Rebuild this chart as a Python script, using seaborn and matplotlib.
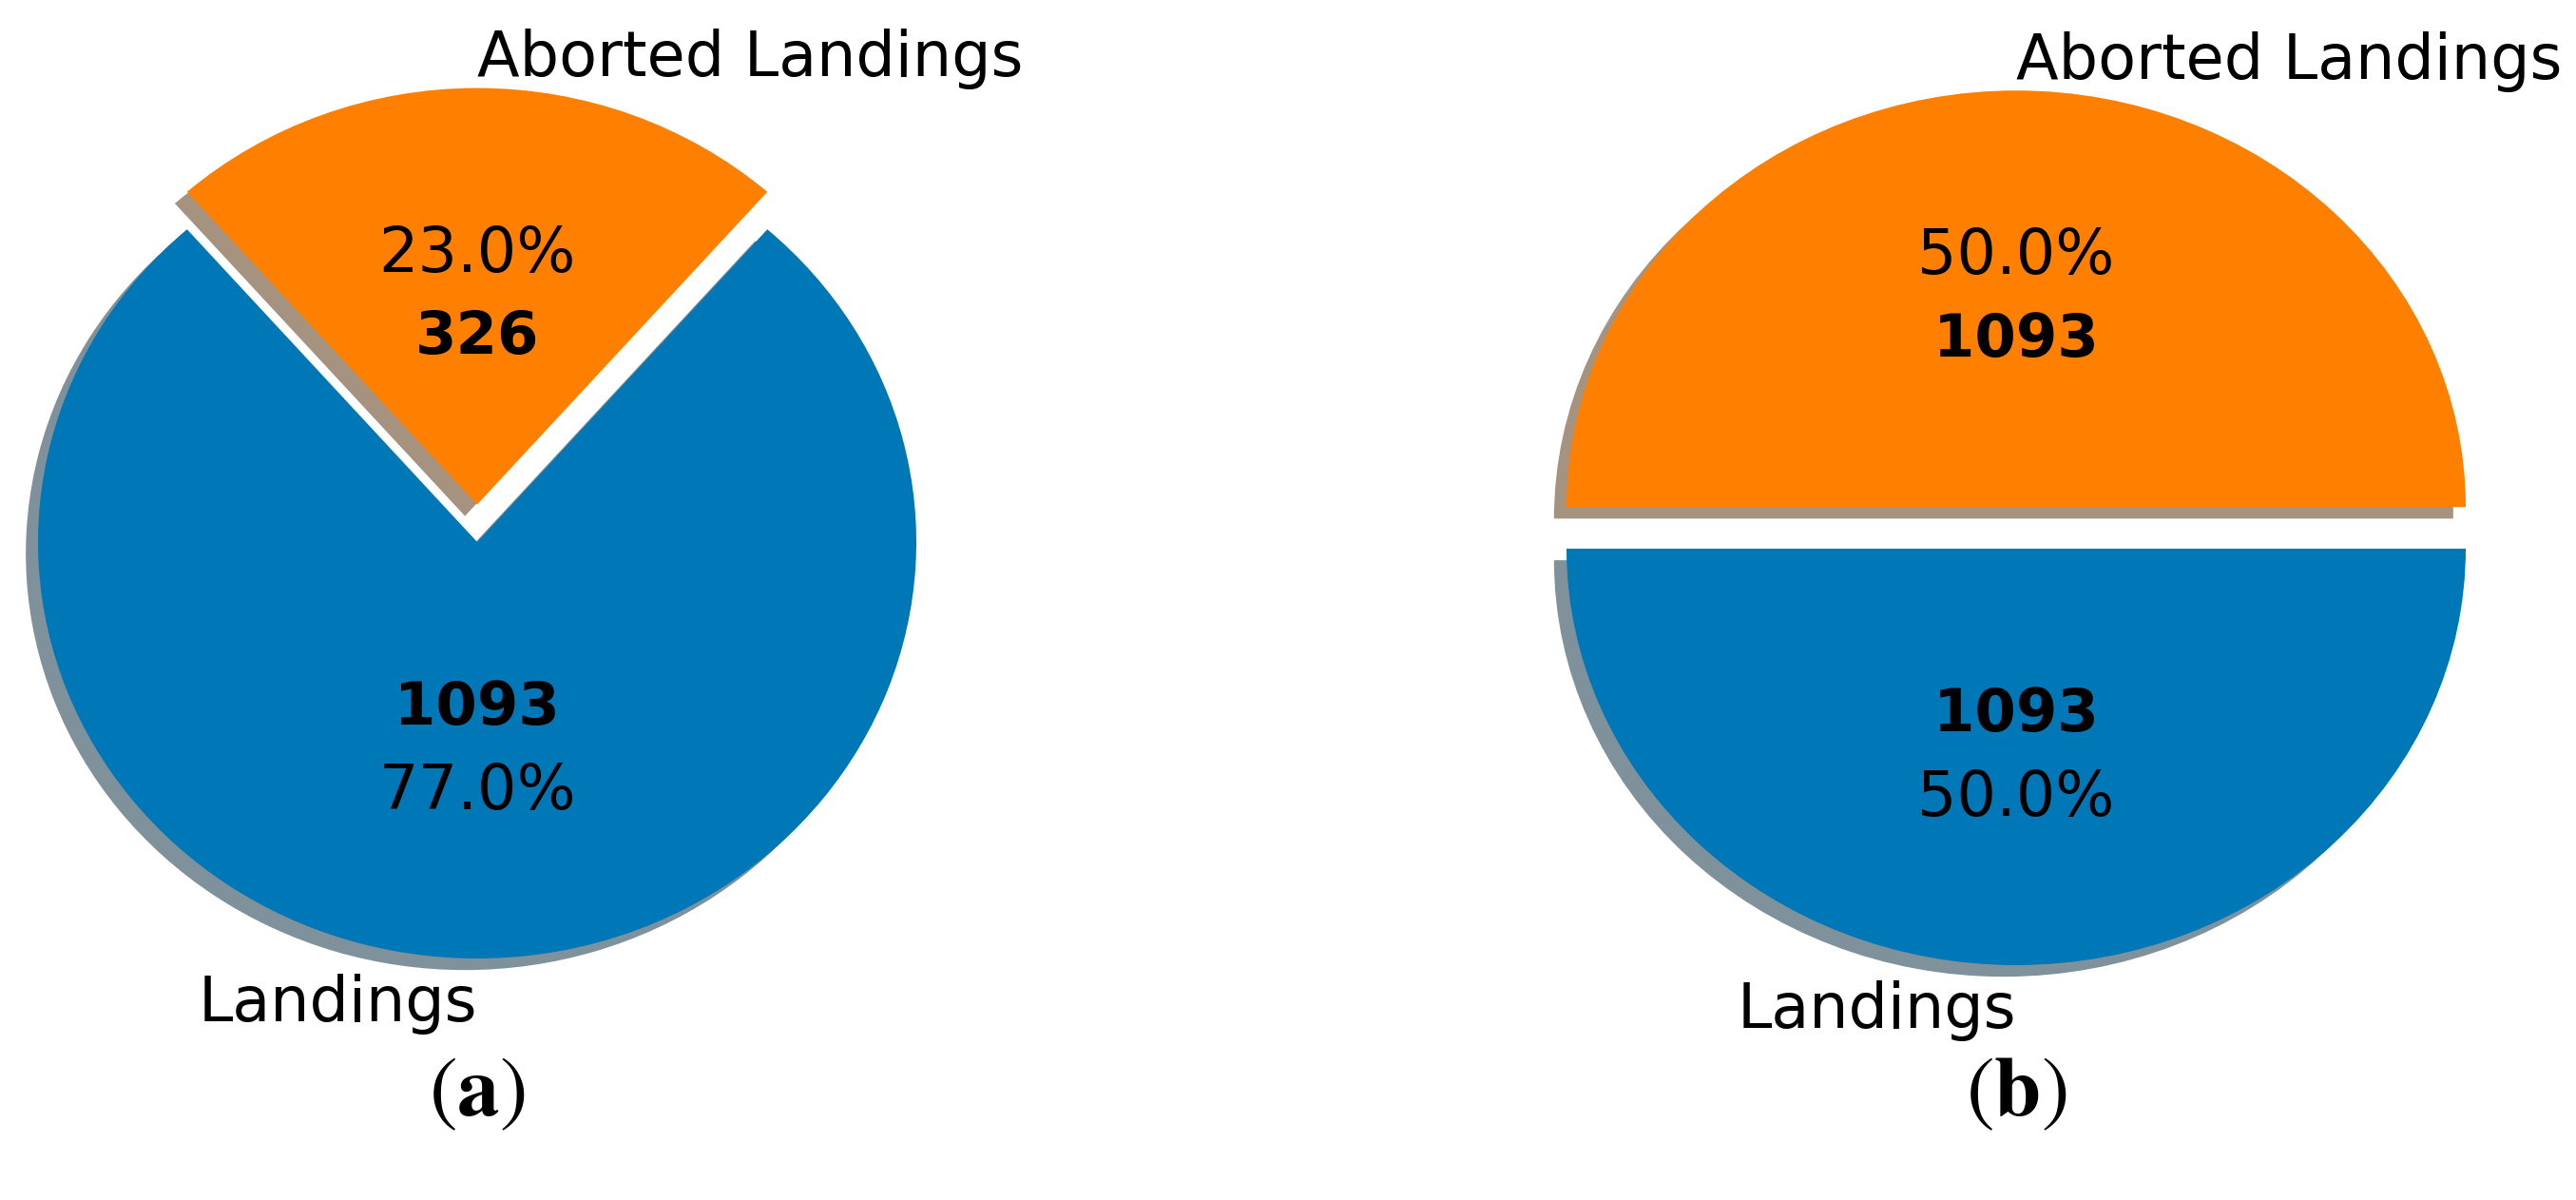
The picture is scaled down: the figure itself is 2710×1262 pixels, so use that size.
import numpy as np
import matplotlib
matplotlib.use('Agg')
import matplotlib.pyplot as plt
import seaborn as sns

# === Data ===
labels = ['Aborted Landings', 'Landings']
counts_a = [326, 1093]
counts_b = [1093, 1093]
explode_a = [0.09, 0]
explode_b = [0.1, 0]
colors = ['#ff8000', '#0077b6']
captions = [r'$(\mathbf{a})$', r'$(\mathbf{b})$']

sns.set_style('white')
plt.rcParams['font.family'] = ['DejaVu Sans']
plt.rcParams['text.color'] = 'black'
plt.rcParams['mathtext.fontset'] = 'stix'

W, H = 2710, 1262
fig = plt.figure(figsize=(W / 100, H / 100), dpi=100)

# axes boxes in pixels: (center x, center y from bottom, x radius, y radius)
boxes = [(502, 692, 462, 438), (2121, 685, 473, 438)]
XL, YL = 1.08, 1.25
label_dist = [1.07, 1.11]


def draw_pie(box, counts, explode, caption):
    cx, cy, rx, ry = box
    ax = fig.add_axes([(cx - XL * rx) / W, (cy - YL * ry) / H,
                       2 * XL * rx / W, 2 * YL * ry / H])
    start = 90 - 180 * counts[0] / sum(counts)
    wedges, texts, autotexts = ax.pie(
        counts, labels=labels, colors=colors, explode=explode,
        autopct='%1.1f%%', pctdistance=0.6, labeldistance=1.1,
        shadow=True, startangle=start,
        wedgeprops={'linewidth': 0},
        textprops={'fontsize': 47, 'color': 'black'})
    for w, n, t, d, ha in zip(wedges, counts, texts, label_dist, ['left', 'right']):
        th = np.deg2rad((w.theta1 + w.theta2) / 2)
        x0, y0 = w.center
        ax.text(x0 + 0.4 * w.r * np.cos(th), y0 + 0.4 * w.r * np.sin(th),
                str(n), ha='center', va='center', fontsize=45,
                fontweight='bold', color='black')
        t.set_position((x0, y0 + d * w.r * np.sin(th)))
        t.set_ha(ha)
    ax.set_aspect('auto')
    ax.set_xlim(-XL, XL)
    ax.set_ylim(-YL, YL)
    ax.axis('off')
    fig.text(cx / W, 1 - 1149 / H, caption, ha='center', va='center',
             fontsize=64, color='black')


draw_pie(boxes[0], counts_a, explode_a, captions[0])
draw_pie(boxes[1], counts_b, explode_b, captions[1])

fig.savefig('out.png', dpi=100, facecolor='white')
